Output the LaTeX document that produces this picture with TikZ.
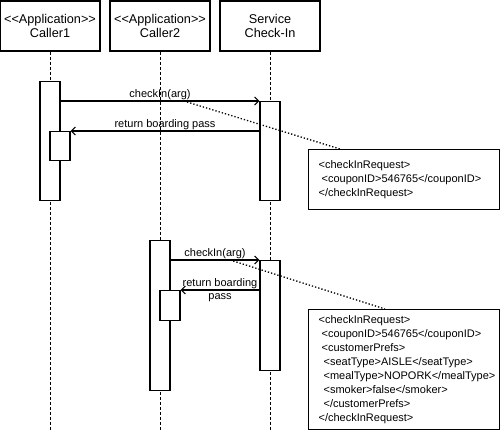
\documentclass[tikz,border=0pt]{standalone}
\usepackage{fontspec}
\setmainfont{Liberation Sans}
\usetikzlibrary{positioning,arrows.meta}

\begin{document}
\begin{tikzpicture}[
  x=1pt, y=-1pt, font=\fontsize{11}{14}\selectfont, >={Straight Barb[length=4pt,width=8pt]},
  hd/.style={draw, line width=1.2pt, minimum width=100pt, minimum height=50pt, inner sep=0pt,
    align=center, font=\fontsize{12.7}{14}\selectfont},
  ll/.style={line width=1pt, dash pattern=on 3pt off 2pt},
  act/.style={draw, line width=1.2pt, fill=white, minimum width=20pt, inner sep=0pt, anchor=north},
  nt/.style={draw, line width=1.2pt, fill=white, anchor=north west, text width=171pt, inner xsep=10pt,
    inner ysep=0pt, align=left, execute at begin node={\hyphenpenalty=10000}},
  m/.style={line width=1.1pt, ->}, l/.style={inner sep=1pt},
  dt/.style={line width=1.3pt, dotted}]
\useasboundingbox (0,0) rectangle (500,430);
% lifeline heads
\node[hd] (c1) at (50,26) {<\kern0pt<Application>\kern0pt>\\Caller1};
\node[hd] (c2) at (160,26) {<\kern0pt<Application>\kern0pt>\\Caller2};
\node[hd] (sv) at (270,26) {Service\\Check-In};
\coordinate (e1) at (50,430); \coordinate (e2) at (160,430); \coordinate (e3) at (270,430);
\draw[ll] (c1) -- (e1); \draw[ll] (c2) -- (e2); \draw[ll] (sv) -- (e3);
% activations
\node[act, minimum height=119pt] (a1) at (50,81) {};
\node[act, minimum height=29pt] (r1) at (60,131) {};
\node[act, minimum height=99pt] (s1) at (270,101) {};
\node[act, minimum height=150pt] (a2) at (160,240) {};
\node[act, minimum height=30pt] (r2) at (170,290) {};
\node[act, minimum height=110pt] (s2) at (270,260) {};
% notes
\node[nt, minimum height=60pt] (n1) at (308,149) {<checkInRequest>\\
  \hspace*{3pt}<couponID>546765</couponID>\\
  </checkInRequest>};
\node[nt, minimum height=120pt] (n2) at (308,309) {<checkInRequest>\\
  \hspace*{3pt}<couponID>546765</couponID>\\
  \hspace*{3pt}<customerPrefs>\\
  \hspace*{5pt}<seatType>AISLE</seatType>\\
  \hspace*{5pt}<mealType>NOPORK</mealType>\\
  \hspace*{5pt}<smoker>false</smoker>\\
  \hspace*{5pt}</customerPrefs>\\
  </checkInRequest>};
% messages
\draw[m] (a1.east |- s1.north) -- node[above, l] {checkIn(arg)} coordinate[pos=0.62] (d1) (s1.north west);
\draw[m] (s1.west |- r1.north) -- node[above, l] {return boarding pass} (r1.north east);
\draw[m] (a2.east |- s2.north) -- node[above, l] {checkIn(arg)} coordinate[pos=0.67] (d2) (s2.north west);
\draw[m] (s2.west |- r2.north) -- node[l, align=center, font=\fontsize{11}{13}\selectfont] {return boarding\\pass} (r2.north east);
\draw[dt] (d1) -- ([xshift=32pt]n1.north west);
\draw[dt] (d2) -- ([xshift=77pt]n2.north west);
\end{tikzpicture}
\end{document}
